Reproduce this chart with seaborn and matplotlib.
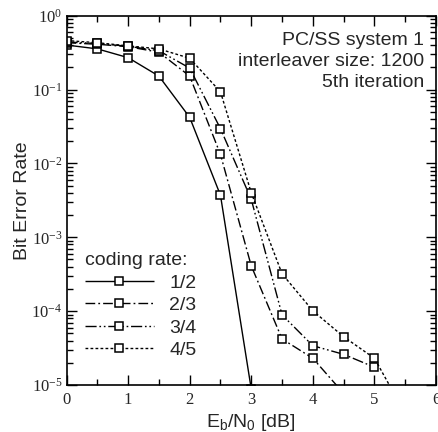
import numpy as np
import pandas as pd
import matplotlib
matplotlib.use("Agg")
import matplotlib.pyplot as plt
import seaborn as sns
from matplotlib.ticker import LogLocator, LogFormatterMathtext, MultipleLocator, NullFormatter

# ---- data ----
ebn0 = [0.0, 0.5, 1.0, 1.5, 2.0, 2.5, 3.0, 3.5, 4.0, 4.5, 5.0, 5.5]
rate_labels = ["1/2", "2/3", "3/4", "4/5"]
ber_12 = [0.40, 0.355, 0.27, 0.152, 0.042, 3.7e-3, 8.8e-6]
ber_23 = [0.43, 0.41, 0.38, 0.32, 0.152, 0.0132, 4.1e-4, 4.2e-5, 2.3e-5, 7.7e-6]
ber_34 = [0.44, 0.42, 0.385, 0.335, 0.195, 0.0295, 3.26e-3, 8.9e-5, 3.4e-5, 2.6e-5, 1.74e-5]
ber_45 = [0.46, 0.43, 0.39, 0.355, 0.265, 0.093, 4.0e-3, 3.2e-4, 1.01e-4, 4.5e-5, 2.3e-5, 4.1e-6]
series = [ber_12, ber_23, ber_34, ber_45]

x_ticks = [0, 1, 2, 3, 4, 5, 6]
annotation = "PC/SS system 1\ninterleaver size: 1200\n5th iteration"

rows = []
for lab, vals in zip(rate_labels, series):
    for xv, yv in zip(ebn0, vals):
        rows.append({"EbN0": xv, "BER": yv, "rate": lab})
df = pd.DataFrame(rows)

sns.set_style("ticks")
plt.rcParams["font.family"] = ["Liberation Sans", "DejaVu Sans"]
plt.rcParams["mathtext.fontset"] = "custom"
plt.rcParams["mathtext.rm"] = "Liberation Serif"
plt.rcParams["mathtext.sf"] = "Liberation Sans"
plt.rcParams["mathtext.it"] = "Liberation Sans:italic"

fig = plt.figure(figsize=(4.39, 4.32), dpi=100)
ax = fig.add_axes([0.1515, 0.1088, 0.8417, 0.855])

dash_styles = {
    "1/2": (0, ()),
    "2/3": (0, (7, 2.2, 1.3, 2.2)),
    "3/4": (0, (8, 2, 1.2, 2, 1.2, 2)),
    "4/5": (0, (2, 1.6)),
}

for lab in rate_labels:
    sub = df[df["rate"] == lab]
    sns.lineplot(data=sub, x="EbN0", y="BER", ax=ax, color="black",
                 linewidth=1.0, linestyle=dash_styles[lab], marker="s",
                 markersize=6, markerfacecolor="white", markeredgecolor="black",
                 markeredgewidth=1.1, label=lab, estimator=None, sort=False)

ax.set_yscale("log")
ax.set_xlim(0, 6)
ax.set_ylim(1e-5, 1)
ax.set_xticks(x_ticks)
ax.set_xticklabels([str(t) for t in x_ticks], fontfamily="Liberation Serif", fontsize=12)
ax.xaxis.set_minor_locator(MultipleLocator(0.5))
ax.yaxis.set_major_locator(LogLocator(base=10, numticks=10))
ax.yaxis.set_minor_locator(LogLocator(base=10, subs=np.arange(2, 10), numticks=20))
ax.yaxis.set_major_formatter(LogFormatterMathtext())
ax.yaxis.set_minor_formatter(NullFormatter())
for lbl in ax.get_yticklabels():
    lbl.set_fontfamily("Liberation Serif")
    lbl.set_fontsize(12)

ax.tick_params(which="both", direction="in", top=True, right=True, color="black", width=1.0)
ax.tick_params(which="major", length=7)
ax.tick_params(which="minor", length=4)
ax.tick_params(axis="x", which="major", pad=5)
ax.tick_params(axis="y", which="major", pad=3)
for sp in ax.spines.values():
    sp.set_linewidth(1.2)
    sp.set_color("black")

ax.set_xlabel(r"E$_\mathsf{b}$/N$_\mathsf{0}$ [dB]", fontsize=14, labelpad=3)
ax.set_ylabel("Bit Error Rate", fontsize=14, labelpad=0)

ax.text(0.967, 0.955, annotation, transform=ax.transAxes, ha="right", va="top",
        fontsize=14, linespacing=1.28, multialignment="right")

leg = ax.legend(title="coding rate:", loc="upper left", bbox_to_anchor=(0.025, 0.386),
                frameon=False, fontsize=14, title_fontsize=14, handlelength=3.5,
                labelspacing=0.25, borderpad=0.0, handletextpad=0.8, alignment="left")

fig.savefig("out.png", dpi=100)
